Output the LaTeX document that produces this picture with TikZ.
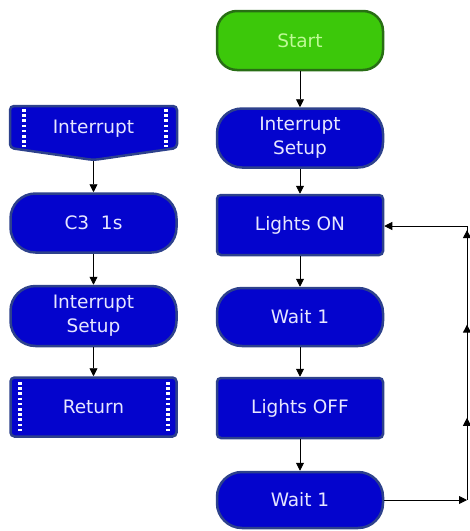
\documentclass[tikz,border=0pt]{standalone}
\usepackage{fontspec}
\setmainfont{DejaVu Sans}
\usetikzlibrary{arrows.meta,decorations.markings}
\definecolor{boxblue}{RGB}{4,4,205}
\definecolor{boxedge}{RGB}{45,65,140}
\definecolor{startgreen}{RGB}{60,200,10}
\definecolor{startedge}{RGB}{40,110,20}
\definecolor{starttext}{RGB}{190,250,150}
\definecolor{boxtext}{RGB}{230,230,255}
\begin{document}
\begin{tikzpicture}[x=1pt,y=-1pt,
  base/.style={fill=boxblue,draw=boxedge,line width=2.5pt,text=boxtext,
    font=\fontsize{18.5}{24}\selectfont,align=center,inner sep=0pt,
    minimum width=166pt},
  roundbox/.style={base,rounded corners=25pt},
  rectbox/.style={base,rounded corners=4pt},
  startbox/.style={base,fill=startgreen,draw=startedge,text=starttext,rounded corners=20pt},
  textonly/.style={text=boxtext,font=\fontsize{18.5}{24}\selectfont,align=center,inner sep=0pt},
  shapefill/.style={fill=boxblue,draw=boxedge,line width=2.5pt,rounded corners=4pt},
  bars/.style={white,line width=4pt,dash pattern=on 2.6pt off 2.6pt},
  conn/.style={-{Triangle[length=8pt,width=8pt]},line width=0.9pt},
  loopmarks/.style={decoration={markings,
      mark=at position 0.30 with {\arrow{Triangle[length=8pt,width=8pt]}},
      mark=at position 0.64 with {\arrow{Triangle[length=8pt,width=8pt]}},
      mark=at position 0.985 with {\arrow{Triangle[length=8pt,width=8pt]}}},
    postaction={decorate}},
]
\useasboundingbox (0,0) rectangle (470,531);

% right column
\node[startbox,minimum height=59pt] (start) at (300,40.5) {Start};
\node[roundbox,minimum height=59pt] (isr) at (300,138) {Interrupt\\Setup};
\node[rectbox,minimum height=60pt] (lon) at (300,225) {Lights ON};
\node[roundbox,minimum height=58pt] (w1) at (300,317) {Wait 1};
\node[rectbox,minimum height=60pt] (loff) at (300,408) {Lights OFF};
\node[roundbox,minimum height=56pt] (w2) at (300,500) {Wait 1};

% left column
\path[shapefill] (10,106) -- (177,106) -- (177,148) -- (93.5,160) -- (10,148) -- cycle;
\draw[bars] (24,109) -- (24,147);
\draw[bars] (166,109) -- (166,147);
\node[textonly] (intr) at (93.5,129) {Interrupt};
\coordinate (intrb) at (93.5,161);
\node[roundbox,minimum height=59pt] (c3) at (93.5,223) {C3\ \ 1s};
\node[roundbox,minimum height=60pt] (isl) at (93.5,316) {Interrupt\\Setup};
\node[rectbox,minimum height=59pt] (ret) at (93.5,407) {Return};
\draw[bars] (20,382) -- (20,434);
\draw[bars] (168,382) -- (168,434);

% connectors
\draw[conn] (start) -- (isr);
\draw[conn] (isr) -- (lon);
\draw[conn] (lon) -- (w1);
\draw[conn] (w1) -- (loff);
\draw[conn] (loff) -- (w2);
\draw[conn] (intrb) -- (c3);
\draw[conn] (c3) -- (isl);
\draw[conn] (isl) -- (ret);

% loop back
\coordinate (lb) at (467,500);
\coordinate (lt) at (467,226);
\draw[conn] (w2.east) -- (lb);
\draw[line width=0.9pt,loopmarks] (lb) -- (lt);
\draw[conn] (lt) -- (lon.east |- lt);
\end{tikzpicture}
\end{document}
